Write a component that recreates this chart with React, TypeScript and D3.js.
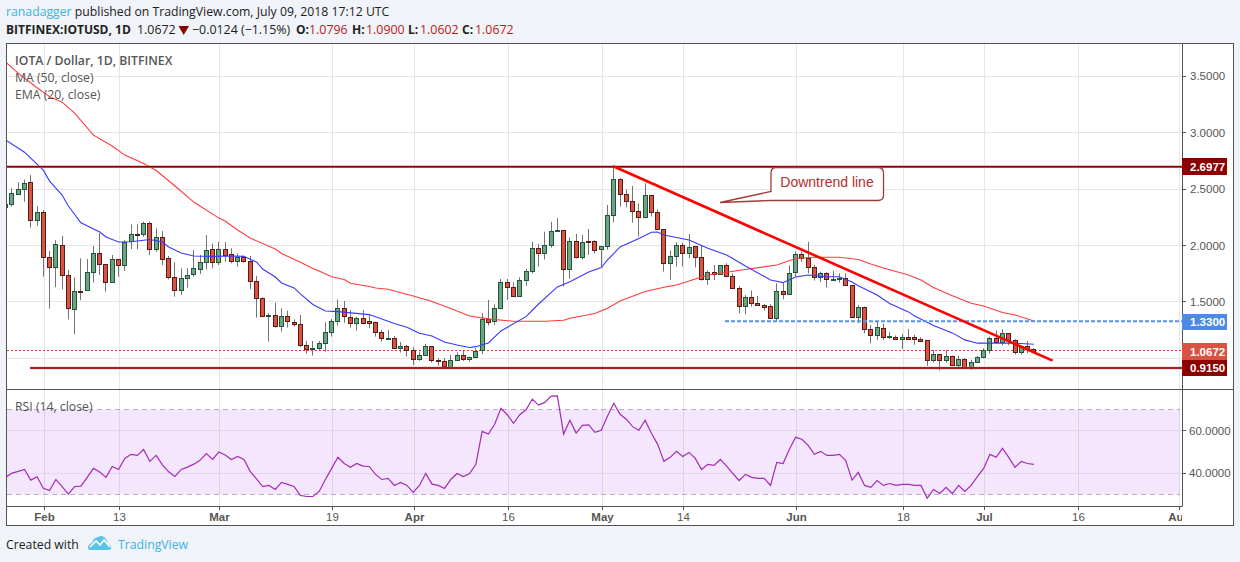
import React from "react";
import * as d3 from "d3";

const startDay = Date.UTC(2018, 0, 26);
const DAY = 86400000;

const opens = [
2.343,2.364,2.459,2.497,2.559,2.222,2.293,1.895,1.807,2.001,
1.736,1.435,1.597,1.603,1.762,1.930,1.833,1.674,1.877,1.824,
2.037,2.102,2.099,2.196,1.966,2.072,1.886,1.718,1.603,1.709,
1.745,1.795,1.851,1.966,1.851,1.966,1.922,1.860,1.895,1.860,
1.683,1.532,1.379,1.382,1.290,1.373,1.326,1.302,1.116,1.087,
1.090,1.134,1.231,1.329,1.444,1.364,1.317,1.355,1.329,1.320,
1.231,1.172,1.178,1.090,1.108,1.072,0.992,1.028,1.108,0.987,
0.975,0.927,0.984,1.028,0.992,1.010,1.072,1.346,1.329,1.444,
1.674,1.630,1.556,1.692,1.771,1.975,1.930,2.001,2.125,2.134,
1.789,2.037,1.895,2.037,2.037,1.966,
1.993,2.267,2.586,2.453,2.391,2.303,2.256,2.444,2.294,2.143,
1.843,1.904,2.002,1.931,1.993,1.896,1.701,1.763,1.751,1.825,
1.727,1.621,1.462,1.542,1.489,1.471,1.462,1.356,1.595,1.574,
1.763,1.922,1.893,1.813,1.719,1.754,1.701,1.701,1.710,1.648,
1.371,1.453,1.258,1.205,1.273,1.188,1.193,1.170,1.188,1.188,
1.176,1.161,0.984,1.037,0.984,1.020,0.940,0.993,0.922,0.966,
1.011,1.073,1.179,1.149,1.223,1.161,1.055,1.108,1.0796];

const highs = [
2.373,2.506,2.559,2.585,2.624,2.349,2.314,1.951,2.048,2.084,
1.783,1.718,1.886,1.880,1.995,2.108,1.833,1.916,1.877,2.048,
2.187,2.187,2.211,2.211,2.152,2.128,1.907,1.851,1.798,1.798,
1.960,1.916,2.093,2.019,2.034,2.031,1.975,1.930,1.910,1.907,
1.730,1.541,1.400,1.494,1.444,1.423,1.346,1.385,1.155,1.155,
1.155,1.320,1.349,1.523,1.509,1.429,1.370,1.429,1.391,1.326,
1.252,1.252,1.199,1.146,1.119,1.099,1.060,1.128,1.111,1.001,
1.001,1.031,1.054,1.075,1.016,1.090,1.400,1.518,1.479,1.703,
1.703,1.674,1.718,1.792,2.034,2.013,2.122,2.211,2.243,2.134,
2.072,2.102,2.093,2.146,2.046,1.995,
2.359,2.713,2.595,2.497,2.527,2.373,2.551,2.447,2.320,2.146,
1.955,2.028,2.025,2.102,1.996,2.005,1.778,1.828,1.828,1.843,
1.754,1.642,1.562,1.601,1.553,1.480,1.480,1.666,1.666,1.825,
1.946,1.946,2.034,1.828,1.769,1.763,1.775,1.754,1.754,1.651,
1.474,1.459,1.297,1.326,1.306,1.232,1.202,1.217,1.261,1.208,
1.188,1.161,1.076,1.037,1.076,1.025,1.022,1.002,0.987,1.022,
1.090,1.194,1.247,1.258,1.223,1.170,1.117,1.155,1.0900];

const lows = [
2.338,2.343,2.447,2.388,2.158,2.175,1.724,1.441,1.630,1.612,
1.346,1.214,1.518,1.600,1.671,1.739,1.591,1.671,1.724,1.774,
1.969,1.966,2.078,1.916,1.945,1.827,1.700,1.547,1.562,1.627,
1.724,1.748,1.792,1.798,1.827,1.857,1.842,1.812,1.848,1.615,
1.361,1.364,1.149,1.273,1.237,1.273,1.282,1.099,1.043,1.025,
1.075,1.060,1.193,1.290,1.317,1.273,1.246,1.311,1.267,1.193,
1.149,1.164,1.081,1.052,1.016,0.942,0.978,1.022,0.963,0.936,
0.927,0.927,0.978,0.978,0.972,1.001,1.037,1.290,1.296,1.435,
1.518,1.547,1.547,1.644,1.754,1.813,1.877,1.981,2.125,1.636,
1.706,1.886,1.877,1.916,1.930,1.813,
1.961,2.205,2.344,2.338,2.202,2.079,2.241,2.256,2.138,1.769,
1.695,1.813,1.813,1.887,1.807,1.689,1.651,1.695,1.739,1.719,
1.621,1.400,1.391,1.459,1.468,1.424,1.350,1.326,1.524,1.562,
1.725,1.857,1.754,1.689,1.674,1.627,1.695,1.671,1.645,1.356,
1.312,1.223,1.135,1.164,1.164,1.170,1.164,1.084,1.164,1.120,
1.143,0.934,0.963,0.893,0.963,0.934,0.922,0.919,0.899,0.958,
1.002,1.043,1.140,1.117,1.117,1.034,1.034,1.046,1.0602];

const closes = [
2.367,2.461,2.497,2.550,2.222,2.293,1.895,1.807,2.010,1.736,
1.444,1.594,1.591,1.762,1.930,1.833,1.674,1.877,1.824,2.028,
2.099,2.096,2.196,1.966,2.072,1.877,1.718,1.603,1.709,1.736,
1.798,1.851,1.957,1.851,1.966,1.919,1.860,1.895,1.860,1.683,
1.532,1.373,1.385,1.290,1.373,1.329,1.302,1.116,1.087,1.093,
1.134,1.231,1.329,1.444,1.373,1.317,1.355,1.317,1.317,1.231,
1.178,1.178,1.090,1.108,1.072,0.992,1.028,1.108,0.984,0.975,
0.936,0.984,1.028,0.992,1.010,1.069,1.346,1.326,1.444,1.674,
1.630,1.556,1.692,1.771,1.975,1.930,2.001,2.125,2.134,1.789,
2.037,1.895,2.028,2.028,1.957,1.992,
2.267,2.586,2.453,2.391,2.303,2.256,2.444,2.294,2.143,1.843,
1.904,2.002,1.931,1.984,1.896,1.701,1.763,1.751,1.825,1.727,
1.621,1.462,1.542,1.489,1.471,1.459,1.356,1.595,1.574,1.754,
1.922,1.893,1.807,1.719,1.754,1.701,1.707,1.710,1.648,1.371,
1.453,1.258,1.205,1.276,1.188,1.199,1.170,1.188,1.176,1.170,
1.158,0.984,1.037,0.984,1.020,0.940,0.993,0.922,0.966,1.011,
1.073,1.179,1.149,1.223,1.161,1.055,1.108,1.081,1.0672];

const rsiValues = [
38.1,40.1,40.9,41.8,36.8,38.4,33.0,31.9,37.1,33.7,
30.2,33.8,34.0,38.1,42.3,40.6,38.1,43.2,41.8,47.0,
48.9,48.4,51.2,45.6,48.4,44.0,40.7,38.5,41.8,42.9,
44.3,46.1,49.3,46.5,50.0,48.6,46.5,47.9,46.5,40.9,
37.4,33.8,34.3,32.4,35.7,34.8,33.8,29.6,29.1,29.1,
31.5,37.1,42.3,47.5,44.6,42.8,44.6,43.4,43.2,39.5,
37.1,37.6,34.3,35.7,34.3,31.0,34.3,39.9,34.9,34.3,
32.9,37.1,39.9,38.5,39.9,44.2,59.7,58.4,63.0,70.5,
67.5,63.5,67.5,69.8,74.8,72.0,73.3,76.2,76.3,58.4,
64.9,58.9,62.5,62.7,59.2,60.2,66.9,72.9,67.7,65.4,
61.9,60.2,64.9,58.8,53.6,45.6,47.5,50.3,47.9,49.8,
47.0,41.8,44.2,43.7,46.5,43.4,39.9,36.6,39.5,38.1,
37.6,37.6,34.3,45.1,44.6,51.2,56.9,56.0,53.1,48.9,
50.3,48.4,48.4,48.9,46.0,36.8,40.4,34.3,33.4,36.6,
34.3,35.2,34.3,34.8,34.8,34.3,34.3,28.3,32.4,30.5,
33.4,30.5,34.3,31.5,34.3,38.4,42.3,48.9,47.5,51.7,
47.5,42.8,45.6,44.6,44.2];

const emaBars = [1,4,6,7,8,10,11,13,16,17,19,21,24,26,27,29,31,34,37,39,41,42,44,45,47,48,50,52,54,59,63,65,67,69,71,73,75,76,78,80,84,86,89,91,94,96,97,99,102,104,105,106,110,113,116,119,123,125,127,129,132,134,136,137,140,142,145,146,149,152,154,156,160,162,165];
const emaValues = [2.934,2.827,2.721,2.668,2.571,2.447,2.35,2.202,2.119,2.075,2.031,2.034,2.053,2.031,1.987,1.934,1.907,1.904,1.907,1.904,1.854,1.792,1.721,1.668,1.624,1.571,1.478,1.42,1.414,1.388,1.31,1.276,1.223,1.199,1.146,1.119,1.096,1.104,1.137,1.243,1.37,1.482,1.633,1.68,1.765,1.805,1.872,1.987,2.062,2.117,2.119,2.093,2.049,1.975,1.916,1.819,1.695,1.671,1.721,1.739,1.724,1.724,1.677,1.644,1.562,1.487,1.412,1.376,1.292,1.226,1.164,1.135,1.137,1.135,1.126];

const maBars = [1,3,6,8,10,12,15,18,20,23,25,28,31,35,36,38,40,44,45,48,50,51,53,55,56,59,60,62,66,69,72,75,78,82,87,90,91,95,97,99,103,106,108,111,113,119,124,127,130,134,137,139,141,145,147,149,152,155,157,160,162,165];
const maValues = [3.624,3.527,3.398,3.319,3.27,3.173,2.978,2.881,2.801,2.726,2.664,2.527,2.385,2.243,2.217,2.137,2.066,1.969,1.929,1.851,1.796,1.774,1.724,1.699,1.665,1.637,1.624,1.612,1.553,1.504,1.442,1.376,1.35,1.329,1.329,1.338,1.356,1.398,1.444,1.509,1.593,1.63,1.65,1.704,1.739,1.788,1.827,1.885,1.896,1.896,1.876,1.836,1.801,1.739,1.695,1.628,1.556,1.488,1.465,1.407,1.385,1.332];

const priceTicks = [3.5, 3, 2.5, 2, 1.5, 1];
const rsiTicks = [60, 40];
const timeTickLabels = ["Feb", "13", "Mar", "19", "Apr", "16", "May", "14", "Jun", "18", "Jul", "16", "Aug"];
const timeTickDates = ["2018-02-01","2018-02-13","2018-03-01","2018-03-19","2018-04-01","2018-04-16","2018-05-01","2018-05-14","2018-06-01","2018-06-18","2018-07-01","2018-07-16","2018-08-01"];
const resistance = 2.6977;
const support = 0.915;
const blueLevel = 1.33;
const lastPrice = 1.0672;
const trendStart = { bar: 98, price: 2.7 };
const trendEnd = { bar: 168, price: 0.98 };

const UI = "'Open Sans', 'Noto Sans', sans-serif";
const AX = "'Liberation Sans', Arial, sans-serif";
const BG = "#f0f3f7";
const FRAME = "#535353";
const GRID = "#e6e6e6";

const L = 7, R = 1182, T = 44, B = 389, B2 = 506;

const xTime = d3.scaleUtc().domain([new Date(Date.UTC(2018,1,1)), new Date(Date.UTC(2018,7,1))]).range([44.3, 1179]);
const barX = (i: number) => xTime(new Date(startDay + i * DAY)) - 1;
const y = d3.scaleLinear().domain([1, 3.5]).range([358.4, 76.2]);
const yR = d3.scaleLinear().domain([40, 60]).range([473.3, 430.7]);
const snap = (v: number) => Math.floor(v) + 0.5;

const emaLine = d3.line<number>().x((_, k) => barX(emaBars[k] - 1)).y(v => y(v));
const maLine = d3.line<number>().x((_, k) => barX(maBars[k] - 1)).y(v => y(v));
const rsiLine = d3.line<number>().x((_, k) => barX(k)).y(v => yR(v));

function Badge({ p, fill, top, bottom }: any) {
  return (
    <g>
      <rect x={1182} y={top} width={45} height={bottom - top} fill={fill} />
      <text x={1190} y={(top + bottom) / 2 + 4} fontFamily={AX} fontSize={11.5} fontWeight={700} fill="#fff">{p.toFixed(4)}</text>
    </g>
  );
}

export default function App() {
  const ticks = timeTickDates.map((d, i) => ({ x: snap(xTime(new Date(d + "T00:00:00Z"))), label: timeTickLabels[i], major: isNaN(+timeTickLabels[i]) }));
  return (
    <svg width={1240} height={562} style={{ position: "absolute", left: 0, top: 0, display: "block" }}>
      <defs>
        <clipPath id="main"><rect x={L} y={T} width={R - L} height={B - T} /></clipPath>
        <clipPath id="rsi"><rect x={L} y={B + 1} width={R - L} height={B2 - B - 1} /></clipPath>
        <clipPath id="time"><rect x={L} y={B2 + 1} width={R - L} height={18} /></clipPath>
      </defs>
      <rect width={1240} height={562} fill={BG} />
      <text x={6} y={16} fontFamily={UI} fontSize={12.25} fill="#222">
        <tspan fill="#3bb3e4">ranadagger</tspan> published on TradingView.com, July 09, 2018 17:12 UTC
      </text>
      <g fontFamily={UI} fontSize={12} fill="#222">
        <text x={6} y={34} fontWeight={700}>BITFINEX:IOTUSD, 1D</text>
        <text x={137} y={34} fontSize={12.4}>1.0672</text>
        <path d="M178.5 26 L189 26 L183.7 35 Z" fill="#8b0000" />
        <text x={192} y={34} fontSize={12.4}>−0.0124 (−1.15%)</text>
        <text x={296} y={34} fontWeight={700}>O:</text>
        <text x={309} y={34} fontSize={12.4} fill="#b71c1c">1.0796</text>
        <text x={352} y={34} fontWeight={700}>H:</text>
        <text x={366} y={34} fontSize={12.4} fill="#b71c1c">1.0900</text>
        <text x={408} y={34} fontWeight={700}>L:</text>
        <text x={420} y={34} fontSize={12.4} fill="#b71c1c">1.0602</text>
        <text x={462} y={34} fontWeight={700}>C:</text>
        <text x={475} y={34} fontSize={12.4} fill="#b71c1c">1.0672</text>
      </g>

      <rect x={6.5} y={43.5} width={1227} height={482} fill="#fff" />

      <g stroke={GRID} strokeWidth={1}>
        {ticks.map(t => <line key={t.x} x1={t.x} x2={t.x} y1={T} y2={B2} />)}
        {priceTicks.map(p => <line key={p} x1={L} x2={R} y1={snap(y(p))} y2={snap(y(p))} />)}
      </g>

      <g>
        <rect x={L} y={yR(70)} width={1180 - L} height={yR(30) - yR(70)} fill="#a63cf0" opacity={0.12} />
        {rsiTicks.map(p => <line key={p} x1={L} x2={R} y1={snap(yR(p))} y2={snap(yR(p))} stroke="#e3d5ee" />)}
        {[70, 30].map(p => <line key={p} x1={L} x2={1180} y1={snap(yR(p))} y2={snap(yR(p))} stroke="#bbaac6" strokeDasharray="5 4" />)}
        <path d={rsiLine(rsiValues) || ""} fill="none" stroke="#a32cb5" strokeWidth={1.2} clipPath="url(#rsi)" />
      </g>

      <g clipPath="url(#main)">
        <line x1={L} x2={R} y1={snap(y(lastPrice))} y2={snap(y(lastPrice))} stroke="#e53935" strokeDasharray="2 2" />
        {opens.map((o, i) => {
          const c = closes[i];
          const up = c >= o;
          const cx = snap(barX(i));
          const top = Math.round(y(Math.max(o, c)));
          const bot = Math.round(y(Math.min(o, c)));
          return (
            <g key={i}>
              <line x1={cx} x2={cx} y1={y(highs[i])} y2={y(lows[i])} stroke="#737375" />
              <rect x={cx - 2} y={top + 0.5} width={4} height={Math.max(bot - top, 1)} fill={up ? "#6ba583" : "#d75442"} stroke={up ? "#225437" : "#5b1a13"} />
            </g>
          );
        })}
        <path d={maLine(maValues) || ""} fill="none" stroke="#ff3b3b" strokeWidth={1.1} />
        <path d={emaLine(emaValues) || ""} fill="none" stroke="#3838ff" strokeWidth={1.1} />

        <line x1={L} x2={R} y1={y(resistance)} y2={y(resistance)} stroke="#c98a8a" strokeWidth={2.6} />
        <line x1={L} x2={R} y1={y(resistance)} y2={y(resistance)} stroke="#8b0000" strokeWidth={1.4} />
        <line x1={30} x2={R} y1={y(support)} y2={y(support)} stroke="#c98a8a" strokeWidth={2.6} />
        <line x1={30} x2={R} y1={y(support)} y2={y(support)} stroke="#8b0000" strokeWidth={1.4} />
        <line x1={725} x2={R} y1={y(blueLevel)} y2={y(blueLevel)} stroke="#5b93ea" strokeWidth={2} strokeDasharray="4 2" />
        <line x1={barX(trendStart.bar - 1)} x2={barX(trendEnd.bar - 1)} y1={y(trendStart.price)} y2={y(trendEnd.price)} stroke="#ff0000" strokeWidth={2.6} />

        <path d="M776 167.5 H878 Q883.5 167.5 883.5 173 V195 Q883.5 200.5 878 200.5 H770 L720 202.5 L771 191.5 V173 Q771 167.5 776 167.5 Z"
          fill="#fff" stroke="#a33a3a" strokeWidth={1.3} />
        <text x={827} y={187} textAnchor="middle" fontFamily={AX} fontSize={14} fill="#b03030">Downtrend line</text>
      </g>

      <g fontFamily={UI} fontSize={12.25} fill="#555">
        <text x={15} y={65} fontWeight={600}>IOTA / Dollar, 1D, BITFINEX</text>
        <text x={15} y={82}>MA (50, close)</text>
        <text x={15} y={99}>EMA (20, close)</text>
        <text x={15} y={411}>RSI (14, close)</text>
      </g>

      <g stroke={FRAME} fill="none">
        <rect x={6.5} y={43.5} width={1227} height={482} />
        <line x1={6.5} x2={1233.5} y1={389.5} y2={389.5} />
        <line x1={6.5} x2={1182.5} y1={506.5} y2={506.5} />
        <line x1={1182.5} x2={1182.5} y1={43.5} y2={506.5} />
      </g>

      <g fontFamily={AX} fontSize={11.5} fill="#555">
        {priceTicks.map(p => (
          <g key={p}>
            <line x1={1183} x2={1186} y1={snap(y(p))} y2={snap(y(p))} stroke={FRAME} />
            {p > 1 && <text x={1190} y={y(p) + 4}>{p.toFixed(4)}</text>}
          </g>
        ))}
        {rsiTicks.map(p => (
          <g key={p}>
            <line x1={1183} x2={1186} y1={snap(yR(p))} y2={snap(yR(p))} stroke={FRAME} />
            <text x={1189} y={yR(p) + 4}>{p.toFixed(4)}</text>
          </g>
        ))}
      </g>
      <Badge p={resistance} fill="#8b0000" top={158} bottom={175} />
      <Badge p={blueLevel} fill="#4d8ae8" top={314} bottom={330} />
      <Badge p={lastPrice} fill="#d75442" top={343} bottom={360} />
      <Badge p={support} fill="#8b0000" top={360} bottom={376} />

      <g clipPath="url(#time)" fontFamily={AX} fontSize={11.5} fill="#555" textAnchor="middle">
        {ticks.map(t => (
          <g key={t.label + t.x}>
            <line x1={t.x} x2={t.x} y1={507} y2={510} stroke={FRAME} />
            <text x={t.x} y={521} fontWeight={t.major ? 700 : 400}>{t.label}</text>
          </g>
        ))}
      </g>

      <text x={6} y={549} fontFamily={UI} fontSize={12.25} fill="#222">Created with</text>
      <path d="M88 548 Q88 544 92 543 Q93 538 98 537 Q103 534 106 539 Q108 543 108 544 Q112 545 111 549 Q110 550 108 550 H91 Q88 550 88 548 Z" fill="#5cc3e8" />
      <path d="M90 547 L96 541 L100 545 L104 540 L110 547" fill="none" stroke="#fff" strokeWidth={1.6} />
      <text x={118} y={549} fontFamily={UI} fontSize={12.25} fill="#3bb3e4">TradingView</text>
    </svg>
  );
}
